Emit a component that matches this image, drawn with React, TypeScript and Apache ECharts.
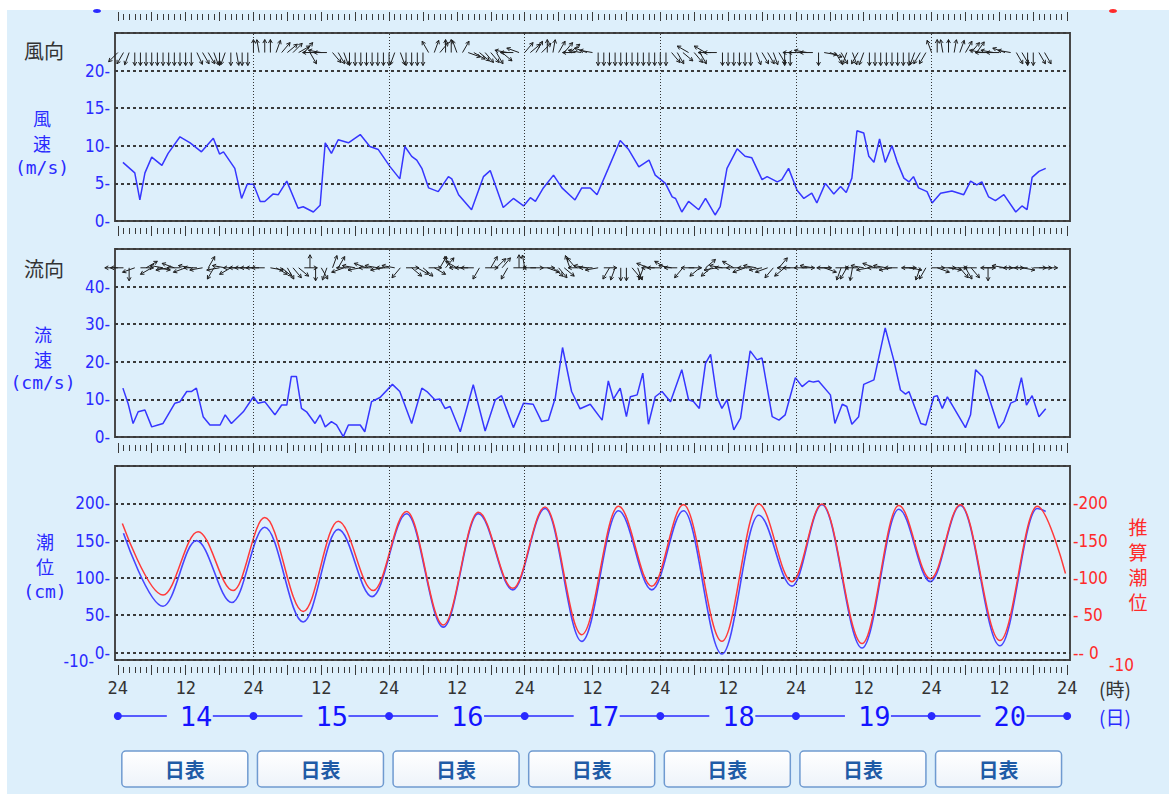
import React, { useEffect, useRef } from 'react';
import * as echarts from 'echarts';

// ---------- data (hour from 14th 0:00, value) ----------
const WIND_SPEED: [number, number][] = [
  [0.9, 7.8], [3, 6.4], [3.9, 2.8], [4.8, 6.4], [6, 8.5], [7.8, 7.4], [8.9, 9], [11, 11.2], [12.8, 10.4],
  [14.8, 9.2], [16.9, 11], [18, 8.9], [18.7, 9.2], [20.7, 7], [21.9, 3], [22.9, 4.9], [24, 4.9], [25.2, 2.6],
  [26, 2.6], [27.5, 3.6], [28.4, 3.5], [29.9, 5.3], [31.9, 1.7], [32.8, 1.9], [34.6, 1.2], [35.8, 2.1],
  [36.7, 10.4], [37.8, 9], [39, 10.8], [40.8, 10.4], [42.9, 11.5], [44.6, 9.9], [46.1, 9.5], [48.2, 7.2],
  [49.9, 5.6], [50.8, 9.9], [52, 8.6], [52.9, 8.1], [53.8, 7], [55, 4.4], [56.7, 3.9], [58.5, 5.9], [59.1, 5.6],
  [60.3, 3.5], [62.6, 1.5], [64.7, 5.9], [65.9, 6.7], [68.2, 1.8], [70, 3], [71.8, 2], [73, 3.1], [73.9, 2.6],
  [75.3, 4.4], [77.1, 6.1], [78.6, 4.4], [80.9, 2.8], [82.1, 4.4], [83.6, 4.4], [84.8, 3.5], [86.8, 7],
  [88.9, 10.7], [90.4, 9.5], [92.2, 7.2], [94, 8.1], [95.1, 6.1], [96.9, 5], [98.1, 3.2], [98.7, 3], [99.8, 1.2],
  [101, 2.6], [102.8, 1.5], [104, 3], [105.7, 0.8], [106.6, 1.9], [107.8, 7], [109.6, 9.6], [111, 8.6],
  [112.2, 8.4], [114, 5.5], [114.9, 5.9], [116.7, 5.2], [117.5, 5.5], [118.7, 7], [120.2, 4.1], [121.4, 3],
  [122.8, 3.7], [123.7, 2.4], [125.2, 5], [126.7, 3.6], [127.9, 4.6], [128.9, 3.8], [129.9, 5.7], [130.8, 12],
  [132, 11.7], [132.9, 8.6], [133.8, 7.8], [134.8, 10.9], [135.8, 7.8], [137, 10], [137.9, 7.9], [139.1, 5.7],
  [140, 5.2], [140.8, 5.9], [141.7, 4.4], [143.2, 3.9], [144.1, 2.4], [145.6, 3.7], [147.6, 4], [149.7, 3.5],
  [150.9, 5.3], [152, 4.8], [152.9, 5.2], [154.1, 3.2], [155.3, 2.7], [156.8, 3.5], [158.9, 1.2], [160, 2],
  [160.9, 1.5], [161.8, 5.8], [163, 6.6], [164.2, 7],
];

const CURRENT_SPEED: [number, number][] = [
  [0.9, 13], [1.8, 9], [2.7, 3.6], [3.6, 6.7], [4.8, 7.2], [6, 2.7], [7.1, 3.2], [8, 3.6], [10.1, 9], [11, 9.4],
  [12.2, 12.1], [13, 12.1], [13.9, 13], [15.1, 5.4], [16.3, 3.2], [18.1, 3.2], [19, 5.9], [20.1, 3.6],
  [22.2, 6.7], [24, 10.7], [24.8, 9], [26, 9.4], [27.8, 5.9], [29, 8.5], [29.9, 8.5], [30.7, 16.1],
  [31.6, 16.1], [32.5, 7.6], [33.4, 6.7], [34.9, 3.6], [35.8, 5.9], [36.7, 2.7], [37.8, 4.1], [38.7, 3.2],
  [39.9, 0.1], [40.8, 3.2], [42.9, 3.2], [43.7, 1.4], [44.9, 9.4], [46.4, 10.5], [48.6, 14], [49.9, 12.1],
  [52, 3.6], [53.8, 13], [54.7, 12.1], [56.1, 9.9], [57, 10.1], [57.9, 7.6], [58.8, 8.1], [60.6, 1.4],
  [62.9, 13.9], [65, 1.6], [66.8, 9.9], [67.9, 11], [70, 2.5], [71.8, 9], [73.5, 8.7], [75, 4.1], [76.2, 4.5],
  [77.4, 10.3], [78.7, 23.8], [80.3, 12.1], [81.8, 7.5], [83.6, 8.7], [85.7, 4.5], [86.8, 14.9], [87.7, 10.1],
  [88.9, 13], [90, 5.4], [90.7, 10.7], [91.9, 11.2], [92.9, 17], [93.9, 3.4], [95.1, 10.7], [96.3, 12.1],
  [97.8, 9.4], [99.8, 17.9], [101, 9.9], [101.9, 9.4], [102.9, 7.6], [104, 19.6], [104.9, 22], [106, 10.7],
  [106.9, 7.6], [107.8, 9.9], [109, 1.9], [110.2, 5], [111.9, 22.9], [113.1, 20.5], [114, 21], [115.8, 5.4],
  [117, 4.5], [118.1, 5.9], [119.9, 15.8], [121.1, 13.4], [122.3, 14.9], [123.1, 14.6], [124, 14.9],
  [126.1, 11.2], [126.9, 3.6], [128.2, 8.7], [129, 8.1], [129.9, 3.4], [131.1, 5.4], [132, 14], [133.8, 15.2],
  [135.8, 29], [137.3, 20.5], [138.5, 12.5], [139.4, 11.4], [140, 12.1], [142.1, 3.6], [143, 3.2],
  [144.4, 10.7], [145, 11], [145.9, 7.6], [146.8, 10.7], [150, 2.5], [150.9, 5.9], [151.8, 17.9], [153, 16.1],
  [154.2, 10.3], [155.9, 2.3], [156.8, 4.1], [158, 9], [158.9, 9.6], [159.9, 15.8], [160.8, 8.5], [161.8, 11],
  [163, 5.4], [164.2, 7.5],
];

const TIDE_OBS: [number, number][] = [
  [1, 160], [8, 62], [13.9, 150], [20.2, 67], [26, 168], [32.8, 41], [39, 165], [45, 75], [51.1, 186],
  [57.6, 34], [63.8, 186], [69.9, 84], [75.6, 193], [82.1, 15], [88.6, 190], [94.5, 84], [100.1, 190],
  [106.9, -2], [113.4, 184], [119.3, 89], [124.6, 198], [131.7, 6], [138.2, 192], [143.8, 95], [149.1, 197],
  [156.1, 9], [162.7, 193], [164.2, 189],
];

// predicted tide (red)
const TIDE_PRED: [number, number][] = [
  [0.8, 173], [8, 77], [14.2, 162], [20.4, 83], [26, 181], [32.8, 55], [39, 176], [45.2, 83], [51.1, 189],
  [57.6, 37], [63.8, 188], [69.9, 86], [75.6, 195], [82.1, 24], [88.6, 196], [94.5, 89], [100.1, 198],
  [106.9, 15], [113.4, 199], [119.3, 95], [124.6, 199], [131.7, 12], [138.2, 197], [143.8, 99], [149.1, 198],
  [156.1, 16], [162.7, 196], [167.7, 106],
];

// hourly arrow directions (degrees the arrow points to, 0 = up/north), hour 0..164
const WIND_DIR: number[] = [
  225, 210, 200, 180, 180, 180, 180, 180, 180, 180, 180, 180, 180, 180, 155, 150, 150, 160, 180, 200, 180, 170, 180, 180,
  0, 350, 0, 0, 20, 40, 50, 45, 60, 40, 150, 270, 280, 270, 140, 150, 160, 180, 180, 180, 180, 180, 180, 180,
  180, 200, 160, 180, 180, 180, 180, 330, 20, 40, 0, 0, 340, 30, 110, 120, 130, 140, 140, 150, 130, 280, 270, 290,
  40, 50, 30, 45, 0, 10, 30, 40, 50, 270, 280, 290, 280, 180, 180, 180, 180, 180, 180, 180, 180, 180, 180, 180,
  180, 180, 140, 150, 130, 300, 140, 150, 300, 270, 270, 180, 180, 180, 180, 180, 180, 160, 150, 150, 160, 150, 180, 180,
  270, 270, 280, 270, 180, 100, 110, 150, 150, 200, 160, 210, 200, 180, 180, 180, 180, 180, 180, 180, 180, 200, 210, 210,
  340, 0, 350, 0, 10, 20, 30, 40, 35, 280, 270, 280, 270, 290, 280, 150, 150, 180, 180, 150, 150,
];

const CURRENT_DIR: number[] = [
  270, 270, 180, 250, 90, 60, 240, 100, 280, 260, 290, 270, 250, 280, 270, 260, 30, 210, 260, 280, 240, 270, 270, 270,
  270, 270, 270, 100, 120, 130, 150, 140, 130, 90, 0, 180, 150, 200, 20, 30, 250, 270, 280, 260, 290, 270, 280, 260,
  270, 280, 220, 90, 130, 120, 130, 90, 120, 30, 40, 330, 300, 270, 270, 270, 210, 90, 30, 45, 40, 210, 90, 0,
  350, 90, 270, 90, 110, 130, 140, 130, 340, 320, 270, 280, 270, 260, 90, 210, 200, 180, 180, 140, 160, 200, 290, 270,
  270, 300, 280, 270, 220, 90, 270, 230, 50, 230, 260, 280, 270, 300, 270, 250, 270, 280, 260, 250, 220, 40, 230, 270,
  270, 90, 270, 280, 90, 110, 270, 90, 200, 210, 190, 270, 280, 260, 290, 270, 280, 260, 270, 90, 100, 270, 200, 210,
  90, 110, 90, 100, 90, 140, 150, 140, 270, 90, 180, 270, 90, 280, 90, 270, 100, 270, 90, 90, 90,
];

const DAYS = ['14', '15', '16', '17', '18', '19', '20'];
const DAY_LINES = [24, 48, 72, 96, 120, 144];
const HOUR_TICKS = Array.from({ length: 169 }, (_, i) => i);
const SIX_HOUR_TICKS = Array.from({ length: 29 }, (_, i) => i * 6);
const HOUR_LABELS = Array.from({ length: 15 }, (_, i) => i * 12);
const PRED_TITLE = ['推', '算', '潮', '位'];

// ---------- layout / style ----------
const GRID_LEFT = 115;
const GRID_W = 955;
const X_MIN = -0.5;
const X_MAX = 168.5;
const WIND_ARROW_LEVEL = 22.4;
const CURRENT_ARROW_LEVEL = 45;
const ARROW_LEN = 13;

const BLUE = '#2a2aff';
const RED = '#ff2a2a';
const DARK = '#333333';
const NUM_FONT = "'DejaVu Sans Condensed', 'Liberation Sans Narrow', 'DejaVu Sans', sans-serif";
const MONO = "'DejaVu Sans Mono', 'Liberation Mono', monospace";
const JP = "'Noto Sans CJK JP', 'Noto Sans', sans-serif";

const dayX = (d: number) => GRID_LEFT + ((d * 24 - X_MIN) * GRID_W) / (X_MAX - X_MIN);

function arrowRenderer(level: number) {
  return (params: any, api: any) => {
    const h = api.value(0);
    const deg = api.value(1);
    const p = api.coord([h, level]);
    const r = (deg * Math.PI) / 180;
    const dx = Math.sin(r);
    const dy = -Math.cos(r);
    const tx = p[0] + dx * ARROW_LEN;
    const ty = p[1] + dy * ARROW_LEN;
    const hl = 4;
    const a = 0.5;
    const bx = -dx;
    const by = -dy;
    const r1 = [bx * Math.cos(a) - by * Math.sin(a), bx * Math.sin(a) + by * Math.cos(a)];
    const r2 = [bx * Math.cos(-a) - by * Math.sin(-a), bx * Math.sin(-a) + by * Math.cos(-a)];
    return {
      type: 'group',
      children: [
        { type: 'line', shape: { x1: p[0], y1: p[1], x2: tx, y2: ty }, style: { stroke: '#1e1e1e', lineWidth: 1 } },
        {
          type: 'polyline',
          shape: { points: [[tx + r1[0] * hl, ty + r1[1] * hl], [tx, ty], [tx + r2[0] * hl, ty + r2[1] * hl]] },
          style: { stroke: '#1e1e1e', lineWidth: 1, fill: null },
        },
      ],
    };
  };
}

function tickAxis(gridIndex: number, position: string, offset: number, values: number[], len: number) {
  return {
    type: 'value', gridIndex, position, offset, min: X_MIN, max: X_MAX,
    axisLine: { show: false, onZero: false },
    axisTick: { show: true, customValues: values, length: len, lineStyle: { color: '#3a3a3a', width: 1 } },
    axisLabel: { show: false },
    splitLine: { show: false },
  };
}

function mainX(gridIndex: number) {
  return { type: 'value', gridIndex, min: X_MIN, max: X_MAX, show: false, axisLine: { onZero: false }, splitLine: { show: false } };
}

const dayMarkLine = {
  silent: true,
  symbol: ['none', 'none'],
  label: { show: false },
  lineStyle: { color: '#333', type: [1, 2], width: 1 },
  data: DAY_LINES.map((h) => ({ xAxis: h })),
};

const splitDash = { show: true, lineStyle: { color: '#3a3a3a', type: [3, 3], width: 2 } };
const leftLabel = { color: BLUE, fontSize: 17, fontFamily: NUM_FONT, margin: 5 };

export default function App() {
  const ref = useRef<HTMLDivElement>(null);

  useEffect(() => {
    if (!ref.current) return;
    const chart = echarts.init(ref.current, undefined, { renderer: 'svg' });

    const graphic: any[] = [];
    const txt = (x: number, y: number, text: string, fill: string, font: string, align = 'center') =>
      graphic.push({
        type: 'text', x, y,
        style: { text, fill, font, align, textAlign: align, verticalAlign: 'middle', textVerticalAlign: 'middle' },
      });

    // remnants of the panel above
    graphic.push({ type: 'ellipse', shape: { cx: 97, cy: 11, rx: 4, ry: 2 }, style: { fill: BLUE } });
    graphic.push({ type: 'ellipse', shape: { cx: 1113, cy: 11, rx: 4, ry: 2 }, style: { fill: RED } });

    // panel titles
    txt(44, 50, '風向', DARK, `20px ${JP}`);
    txt(42, 118, '風', BLUE, `18px ${JP}`);
    txt(42, 143, '速', BLUE, `18px ${JP}`);
    txt(42, 167, '(m/s)', BLUE, `18px ${MONO}`);
    txt(44, 268, '流向', DARK, `20px ${JP}`);
    txt(43, 334, '流', BLUE, `18px ${JP}`);
    txt(43, 359, '速', BLUE, `18px ${JP}`);
    txt(43, 382, '(cm/s)', BLUE, `18px ${MONO}`);
    txt(45, 541, '潮', BLUE, `18px ${JP}`);
    txt(45, 566, '位', BLUE, `18px ${JP}`);
    txt(45, 591, '(cm)', BLUE, `18px ${MONO}`);
    PRED_TITLE.forEach((c, i) => txt(1138, 526 + i * 25.3, c, RED, `19px ${JP}`));
    txt(1099, 688, '(時)', DARK, `19px ${JP}`, 'left');
    txt(1099, 716, '(日)', BLUE, `19px ${JP}`, 'left');
    // bottom label of the left tide scale (drawn apart so that it does not hide the "0-" label)
    txt(94, 661, '-10-', BLUE, `17px ${NUM_FONT}`, 'right');

    // day row
    DAYS.forEach((d, i) => {
      const x0 = dayX(i);
      const x1 = dayX(i + 1);
      graphic.push({ type: 'line', shape: { x1: x0, y1: 716, x2: x0 + 49, y2: 716 }, style: { stroke: BLUE, lineWidth: 1.5 } });
      graphic.push({ type: 'line', shape: { x1: x0 + 95, y1: 716, x2: x1, y2: 716 }, style: { stroke: BLUE, lineWidth: 1.5 } });
      txt(x0 + 62, 716, d, '#1414ff', `27px ${MONO}`, 'left');
    });
    for (let i = 0; i <= DAYS.length; i++) {
      graphic.push({ type: 'circle', shape: { cx: dayX(i), cy: 716, r: 4 }, style: { fill: BLUE } });
    }

    // buttons
    DAYS.forEach((_, i) => {
      const x0 = dayX(i) + 4;
      graphic.push({
        type: 'rect',
        shape: { x: x0, y: 751, width: 126, height: 36, r: 4 },
        style: {
          fill: new echarts.graphic.LinearGradient(0, 0, 0, 1, [
            { offset: 0, color: '#ffffff' },
            { offset: 1, color: '#edf3fa' },
          ]),
          stroke: '#6f9ad0',
          lineWidth: 1.5,
        },
      });
      txt(x0 + 63, 769, '日表', '#1f5ba6', `bold 20px ${JP}`);
    });

    const option: any = {
      animation: false,
      backgroundColor: 'transparent',
      grid: [
        { left: GRID_LEFT, top: 33, width: GRID_W, height: 188, show: true, borderColor: '#484848', borderWidth: 2, backgroundColor: 'transparent' },
        { left: GRID_LEFT, top: 249, width: GRID_W, height: 188, show: true, borderColor: '#484848', borderWidth: 2, backgroundColor: 'transparent' },
        { left: GRID_LEFT, top: 466, width: GRID_W, height: 194, show: true, borderColor: '#484848', borderWidth: 2, backgroundColor: 'transparent' },
      ],
      xAxis: [
        mainX(0), // 0
        tickAxis(0, 'bottom', 7, HOUR_TICKS, 6), // 1
        tickAxis(0, 'bottom', 5, SIX_HOUR_TICKS, 10), // 2
        tickAxis(0, 'top', 13, HOUR_TICKS, 6), // 3
        tickAxis(0, 'top', 12, SIX_HOUR_TICKS, 9), // 4
        mainX(1), // 5
        tickAxis(1, 'bottom', 8, HOUR_TICKS, 6), // 6
        tickAxis(1, 'bottom', 6, SIX_HOUR_TICKS, 10), // 7
        mainX(2), // 8
        tickAxis(2, 'bottom', 7, HOUR_TICKS, 6), // 9
        tickAxis(2, 'bottom', 5, SIX_HOUR_TICKS, 10), // 10
        {
          type: 'value', gridIndex: 2, position: 'bottom', offset: 6, min: X_MIN, max: X_MAX,
          axisLine: { show: false, onZero: false }, axisTick: { show: false }, splitLine: { show: false },
          axisLabel: {
            show: true, customValues: HOUR_LABELS, margin: 13, color: DARK, fontSize: 17, fontFamily: MONO,
            formatter: (v: number) => (v % 24 === 0 ? '24' : '12'),
          },
        }, // 11
      ],
      yAxis: [
        {
          type: 'value', gridIndex: 0, min: 0, max: 25, interval: 5,
          axisLine: { show: false }, axisTick: { show: false }, splitLine: splitDash,
          axisLabel: { ...leftLabel, formatter: (v: number) => (v === 25 ? '' : v + '-') },
        },
        {
          type: 'value', gridIndex: 1, min: 0, max: 50, interval: 10,
          axisLine: { show: false }, axisTick: { show: false }, splitLine: splitDash,
          axisLabel: { ...leftLabel, formatter: (v: number) => (v === 50 ? '' : v + '-') },
        },
        {
          type: 'value', gridIndex: 2, min: -10, max: 250, splitNumber: 5,
          axisLine: { show: false }, axisTick: { show: false }, splitLine: splitDash,
          axisLabel: {
            ...leftLabel, showMinLabel: false, showMaxLabel: false,
            formatter: (v: number) => (v === 250 || v === -10 ? '' : v + '-'),
          },
        },
        {
          type: 'value', gridIndex: 2, position: 'right', min: -10, max: 250, splitNumber: 5,
          axisLine: { show: false }, axisTick: { show: false }, splitLine: { show: false },
          axisLabel: {
            color: RED, fontSize: 17, fontFamily: NUM_FONT, margin: 3, showMinLabel: true, showMaxLabel: true, hideOverlap: false,
            formatter: (v: number) =>
              v === 250 ? '' : v === -10 ? '{s|-10}' : v === 0 ? '-- 0' : '-' + (v < 100 ? ' ' : '') + v,
            rich: { s: { color: RED, fontSize: 17, fontFamily: NUM_FONT, padding: [9, 0, 0, 36] } },
          },
        },
      ],
      graphic,
      series: [
        {
          type: 'line', xAxisIndex: 0, yAxisIndex: 0, data: WIND_SPEED, showSymbol: false,
          lineStyle: { color: '#3636ff', width: 1.5 }, markLine: dayMarkLine, z: 3,
        },
        {
          type: 'custom', xAxisIndex: 0, yAxisIndex: 0, clip: false,
          data: WIND_DIR.map((d, h) => [h, d]), encode: { x: 0 }, renderItem: arrowRenderer(WIND_ARROW_LEVEL), z: 4,
        },
        {
          type: 'line', xAxisIndex: 5, yAxisIndex: 1, data: CURRENT_SPEED, showSymbol: false,
          lineStyle: { color: '#3636ff', width: 1.5 }, markLine: dayMarkLine, z: 3,
        },
        {
          type: 'custom', xAxisIndex: 5, yAxisIndex: 1, clip: false,
          data: CURRENT_DIR.map((d, h) => [h, d]), encode: { x: 0 }, renderItem: arrowRenderer(CURRENT_ARROW_LEVEL), z: 4,
        },
        {
          type: 'line', xAxisIndex: 8, yAxisIndex: 2, data: TIDE_OBS, showSymbol: false,
          smooth: 0.36, smoothMonotone: 'x',
          lineStyle: { color: '#4646ff', width: 1.6 }, markLine: dayMarkLine, z: 3,
        },
        {
          type: 'line', xAxisIndex: 8, yAxisIndex: 3, data: TIDE_PRED, showSymbol: false,
          smooth: 0.36, smoothMonotone: 'x',
          lineStyle: { color: '#ff3a3a', width: 1.5 }, z: 4,
        },
      ],
    };

    chart.setOption(option);
    return () => chart.dispose();
  }, []);

  return (
    <div style={{ position: 'absolute', left: 0, top: 0, width: 1169, height: 794, background: '#ffffff' }}>
      <div style={{ position: 'absolute', left: 7, top: 10, width: 1162, height: 784, background: '#ddeffb' }} />
      <div ref={ref} style={{ position: 'absolute', left: 0, top: 0, width: 1169, height: 794 }} />
    </div>
  );
}
